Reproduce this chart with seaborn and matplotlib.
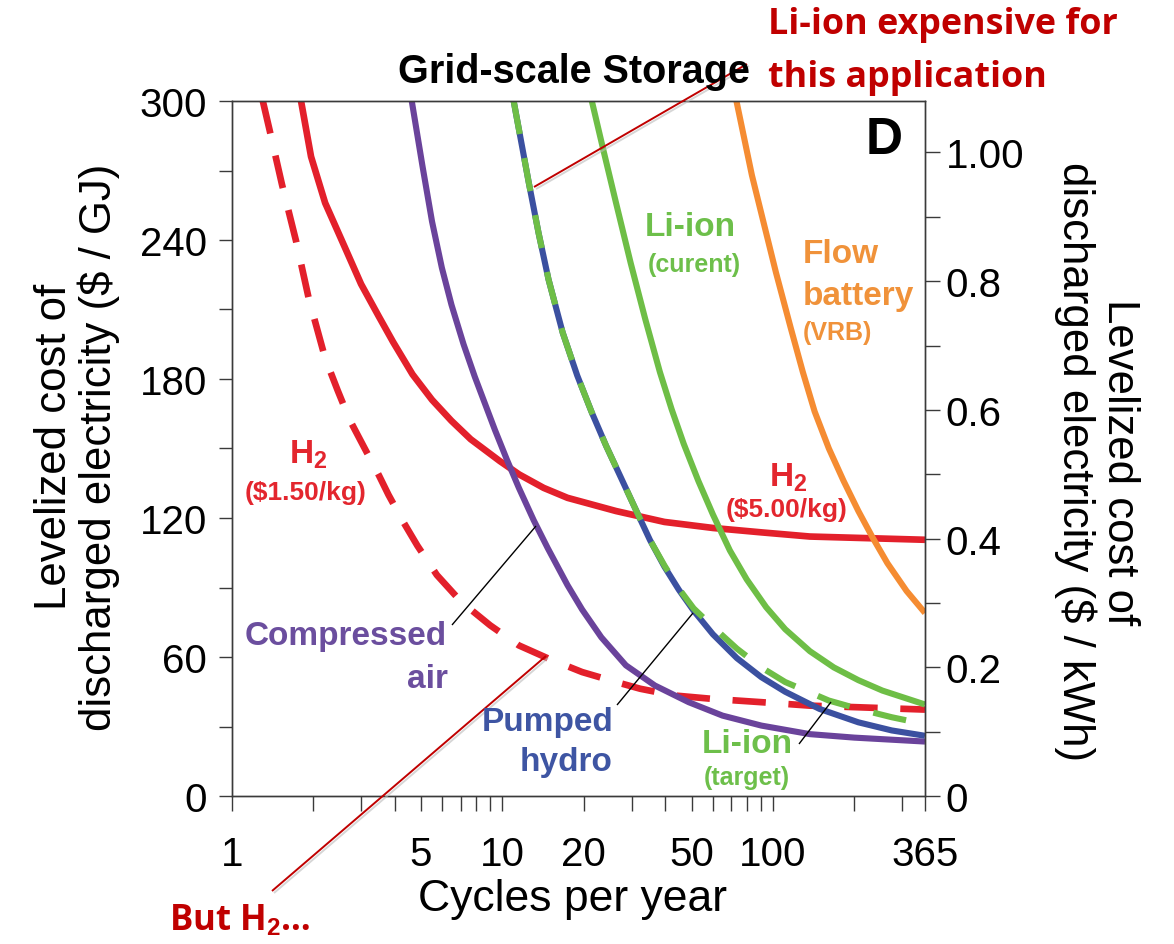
import matplotlib
matplotlib.use('Agg')
import matplotlib.pyplot as plt
import seaborn as sns
import numpy as np
import pandas as pd
from matplotlib.lines import Line2D
from matplotlib.ticker import FixedLocator, FixedFormatter, NullFormatter

# ---------------- data (cycles per year vs levelized cost, $/GJ) ----------------
h2_low_x = [1.30, 1.38, 1.53, 1.73, 1.92, 2.21, 2.46, 2.72, 3.08, 3.49, 3.79, 4.29, 4.85, 5.72,
            7.03, 9.0, 11.5, 14.8, 19.7, 26.3, 32.3, 43.1, 60, 90.6, 137, 207, 365]
h2_low_y = [300, 287, 264, 239, 215, 189, 175, 162.5, 150.5, 138.5, 130, 118.5, 108, 95.4,
            83.9, 73.7, 65, 59.3, 53.5, 49.2, 46.3, 43.4, 41.9, 40.5, 39, 38.3, 37.3]

h2_high_x = [1.80, 1.96, 2.21, 2.61, 3.0, 3.49, 3.94, 4.65, 5.49, 6.47, 7.63, 9.77, 11.53, 14.2,
             17.4, 26.3, 39.7, 60, 90.6, 137, 365]
h2_high_y = [300, 276, 256, 237, 221, 207, 196, 182, 171, 162, 154, 144.6, 138.8, 133,
             128.7, 123, 118.3, 115.7, 113.8, 112, 110.6]

caes_x = [4.62, 5.06, 5.49, 5.97, 6.48, 7.18, 7.9, 8.64, 9.38, 10.4, 11.5, 13.05, 14.7, 17.4,
          19.7, 23.2, 28.6, 36.6, 48.8, 65.1, 90.6, 137, 200, 365]
caes_y = [300, 272, 248, 228, 212, 195, 181, 169, 158, 145, 133, 119, 107, 91,
          80.5, 68.5, 56.4, 47.7, 40.5, 34.7, 30.4, 26.7, 25.2, 23.5]

phs_x = [11.0, 12.5, 13.6, 14.8, 16.7, 18.9, 21.4, 24.2, 27.4, 31, 35.1, 39.7, 44.9, 50.9, 60,
         73.6, 90.6, 111, 148.6, 207, 275, 365]
phs_y = [300, 265, 243, 223, 200, 181.5, 165.5, 151, 137.5, 124, 110.5, 99, 89, 80, 69.8,
         59.5, 51.3, 45, 37.6, 31.8, 28.3, 26]

li_target_x = [11.0, 12.5, 13.6, 14.8, 16.7, 18.9, 21.4, 24.2, 27.4, 31, 35.1, 39.7, 44.9, 50.9,
               60, 73.6, 90.6, 111, 161, 207, 275, 365]
li_target_y = [300, 265, 243, 223, 200, 181.5, 165.5, 151, 137.5, 124, 110.5, 99.5, 89.5, 81,
               73, 63.6, 55.5, 49.2, 41.2, 37.6, 34, 31]

li_current_x = [21.4, 23.7, 26.3, 29.8, 33.7, 38.2, 42.2, 46.8, 53, 60, 69.3, 80, 94.4, 111, 137,
                168, 207, 254, 365]
li_current_y = [300, 278, 256, 230, 206, 183, 167, 152, 136, 121.5, 106, 93.5, 81.5, 72,
                62.5, 55.5, 50, 45.5, 39.5]

flow_x = [73.3, 83.6, 92.6, 102.6, 116.4, 129, 142.6, 161, 182.5, 207, 233.8, 265, 312, 365]
flow_y = [300, 268, 247, 226, 202, 183, 166, 150, 136, 123, 111.5, 100.5, 88.5, 79]

x_tick_major = [1, 5, 10, 20, 50, 100, 365]
x_tick_minor = [2, 3, 4, 6, 7, 8, 9, 30, 40, 60, 70, 80, 90, 200, 300]
y_left_ticks = [0, 60, 120, 180, 240, 300]
y_left_minor = [30, 90, 150, 210, 270]
y_right_ticks = [0, 0.2, 0.4, 0.6, 0.8, 1.0]
y_right_labels = ['0', '0.2', '0.4', '0.6', '0.8', '1.00']
y_right_minor = [0.1, 0.3, 0.5, 0.7, 0.9]
GJ_PER_KWH = 277.78  # $/GJ equal to 1 $/kWh

RED = '#E3202B'
PURPLE = '#6A439B'
BLUE = '#3B50A0'
GREEN = '#6EBE46'
ORANGE = '#F58C32'
DARKRED = '#C00000'

# ---------------- figure ----------------
sns.set_theme(style='ticks')
plt.rcParams['font.family'] = ['Liberation Sans', 'DejaVu Sans']
plt.rcParams['text.color'] = 'black'
plt.rcParams['axes.labelcolor'] = 'black'
plt.rcParams['xtick.color'] = 'black'
plt.rcParams['ytick.color'] = 'black'
plt.rcParams['mathtext.fontset'] = 'custom'
plt.rcParams['mathtext.rm'] = 'Liberation Sans'
plt.rcParams['mathtext.bf'] = 'Liberation Sans:bold'
plt.rcParams['mathtext.it'] = 'Liberation Sans:italic'

W, H = 1174, 945
fig = plt.figure(figsize=(W / 100, H / 100), dpi=100)
fig.patch.set_facecolor('white')
ax = fig.add_axes([232 / W, 1 - 797 / H, (925 - 232) / W, (797 - 102) / H])

LW = 4.4
series = [
    (h2_high_x, h2_high_y, RED, '-', 4.8),
    (h2_low_x, h2_low_y, RED, (0, (5.0, 3.4)), 4.8),
    (caes_x, caes_y, PURPLE, '-', LW),
    (phs_x, phs_y, BLUE, '-', LW),
    (li_target_x, li_target_y, GREEN, (0, (5.5, 4.0)), LW),
    (li_current_x, li_current_y, GREEN, '-', LW),
    (flow_x, flow_y, ORANGE, '-', LW),
]
for xs, ys, col, ls, lw in series:
    df = pd.DataFrame({'x': xs, 'y': ys})
    sns.lineplot(data=df, x='x', y='y', ax=ax, color=col, linewidth=lw,
                 linestyle=ls, sort=False, estimator=None, solid_capstyle='butt',
                 dash_capstyle='butt', solid_joinstyle='round', clip_on=True)

ax.set_xscale('log')
ax.set_xlim(1, 365)
ax.set_ylim(0, 300)
ax.set_xlabel('')
ax.set_ylabel('')
ax.xaxis.set_major_locator(FixedLocator(x_tick_major))
ax.xaxis.set_major_formatter(FixedFormatter([str(v) for v in x_tick_major]))
ax.xaxis.set_minor_locator(FixedLocator(x_tick_minor))
ax.xaxis.set_minor_formatter(NullFormatter())
ax.yaxis.set_major_locator(FixedLocator(y_left_ticks))
ax.yaxis.set_major_formatter(FixedFormatter([str(v) for v in y_left_ticks]))
ax.yaxis.set_minor_locator(FixedLocator(y_left_minor))

SPC = '#3a3a3a'
for s in ax.spines.values():
    s.set_visible(True)
    s.set_color(SPC)
    s.set_linewidth(1.0)
ax.tick_params(axis='x', which='both', direction='out', length=11, width=1, color=SPC,
               pad=17, labelsize=29, labelcolor='black')
ax.tick_params(axis='y', which='both', direction='out', length=9.5, width=1, color=SPC,
               pad=8.5, labelsize=29, labelcolor='black')

ax2 = ax.twinx()
ax2.set_ylim(0, 300 / GJ_PER_KWH)
ax2.yaxis.set_major_locator(FixedLocator(y_right_ticks))
ax2.yaxis.set_major_formatter(FixedFormatter(y_right_labels))
ax2.yaxis.set_minor_locator(FixedLocator(y_right_minor))
for s in ax2.spines.values():
    s.set_color(SPC)
    s.set_linewidth(1.0)
ax2.tick_params(axis='y', which='both', direction='out', length=11, width=1, color=SPC,
                pad=4, labelsize=29, labelcolor='black')

def P(px, py):
    return px / W, 1 - py / H

# axis labels
fig.text(*P(77, 447), 'Levelized cost of\ndischarged electricity ($ / GJ)', rotation=90,
         ha='center', va='center', fontsize=31.5, linespacing=1.08)
fig.text(*P(1097, 462), 'Levelized cost of\ndischarged electricity ($ / kWh)', rotation=270,
         ha='center', va='center', fontsize=31.5, linespacing=1.08)
fig.text(*P(573, 900), 'Cycles per year', ha='center', va='center', fontsize=32)
fig.text(*P(574, 72), 'Grid-scale Storage', ha='center', va='center', fontsize=28.5,
         fontweight='bold')
fig.text(*P(884, 141), 'D', ha='center', va='center', fontsize=37, fontweight='bold')

def lab(px, py, s, col, size=24, ha='center'):
    fig.text(*P(px, py), s, ha=ha, va='center', fontsize=size, fontweight='bold', color=col)

# curve labels
LGREEN = '#6DBF4A'
lab(690, 228, 'Li-ion', LGREEN)
lab(694, 265, '(curent)', LGREEN, 18)
lab(803, 255, 'Flow', '#F0923A', ha='left')
lab(803, 297, 'battery', '#F0923A', ha='left')
lab(803, 333, '(VRB)', '#F0923A', 18, ha='left')
lab(308, 455, r'H$_\mathbf{2}$', '#E3262E')
lab(306, 493, '($1.50/kg)', '#E3262E', 19)
lab(788, 478, r'H$_\mathbf{2}$', '#E3262E')
lab(787, 510, '($5.00/kg)', '#E3262E', 19)
lab(447, 637, 'Compressed', '#6B4E9E', ha='right')
lab(448, 680, 'air', '#6B4E9E', ha='right')
lab(613, 723, 'Pumped', '#3E55A3', ha='right')
lab(613, 763, 'hydro', '#3E55A3', ha='right')
lab(747, 745, 'Li-ion', LGREEN)
lab(747, 778, '(target)', LGREEN, 18)

# leader lines
def fline(p0, p1, col, lw, shadow=False):
    if shadow:
        fig.add_artist(Line2D([(p0[0] + 2) / W, (p1[0] + 2) / W], [1 - (p0[1] + 2) / H, 1 - (p1[1] + 2) / H],
                              color='#bbbbbb', lw=lw, alpha=0.6, solid_capstyle='butt'))
    fig.add_artist(Line2D([p0[0] / W, p1[0] / W], [1 - p0[1] / H, 1 - p1[1] / H],
                          color=col, lw=lw, solid_capstyle='butt'))

fline((452, 626), (536, 527), 'black', 1.0)
fline((617, 706), (693, 614), 'black', 1.0)
fline((799, 745), (831, 703), 'black', 1.0)
fline((534, 188), (747, 65), DARKRED, 1.4, shadow=True)
fline((546, 657), (272, 892), DARKRED, 1.4, shadow=True)

# annotations
ANN = ['Open Sans', 'DejaVu Sans']
fig.text(*P(768, 25), 'Li-ion expensive for', ha='left', va='center', fontsize=25.8,
         fontweight='bold', color=DARKRED, family=ANN)
fig.text(*P(768, 78), 'this application', ha='left', va='center', fontsize=25.8,
         fontweight='bold', color=DARKRED, family=ANN)
fig.text(*P(169, 921), r'But H$_\mathbf{2}$…', ha='left', va='center', fontsize=25,
         fontweight='bold', color=DARKRED, family=ANN)

fig.savefig('out.png', dpi=100, facecolor='white')
